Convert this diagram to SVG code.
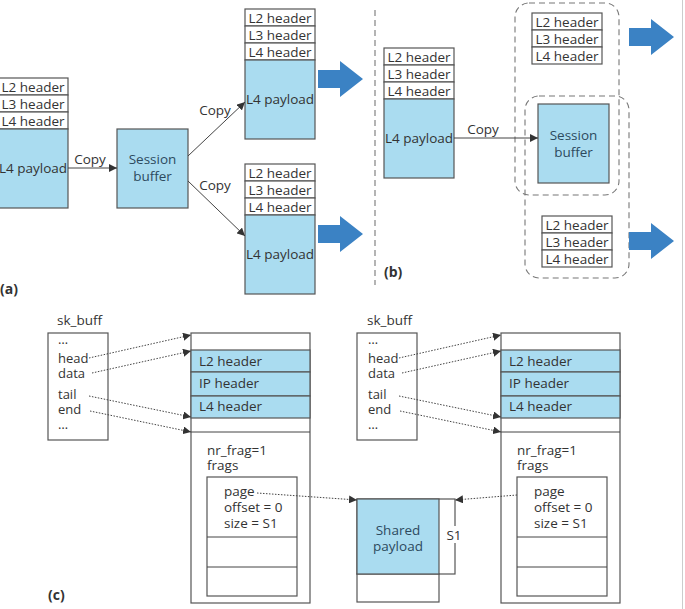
<svg xmlns="http://www.w3.org/2000/svg" width="685" height="609" viewBox="0 0 685 609">
<style>
text{font-family:"Open Sans","Noto Sans","Liberation Sans",sans-serif;font-size:13.5px;fill:#333}
.c{text-anchor:middle}
.s{font-size:13px}
.b{font-weight:bold;font-size:14px}
.sb{fill:#2d4a5e}
.w{fill:#fff;stroke:#555;stroke-width:1.2}
.bl{fill:#aadcf0;stroke:#555;stroke-width:1.2}
.ln{fill:none;stroke:#444;stroke-width:1}
.dot{fill:none;stroke:#444;stroke-width:1;stroke-dasharray:1.5 1.5}
.dash{fill:none;stroke:#777;stroke-width:1.1;stroke-dasharray:6 4}
.ba{fill:#3b82c4}
</style>
<defs>
<marker id="ah" viewBox="0 0 10 10" refX="10" refY="5" markerWidth="8" markerHeight="8" markerUnits="userSpaceOnUse" orient="auto">
<path d="M0,0 L10,5 L0,10 z" fill="#333"/>
</marker>
<g id="hdr3">
<rect class="w" x="0" y="0" width="70" height="17"/>
<rect class="w" x="0" y="17" width="70" height="17"/>
<rect class="w" x="0" y="34" width="70" height="17"/>
<text class="c" x="35" y="13.5">L2 header</text>
<text class="c" x="35" y="30.5">L3 header</text>
<text class="c" x="35" y="47.5">L4 header</text>
</g>
<polygon id="bigarrow" points="0,-9 22,-9 22,-18 45,0 22,18 22,9 0,9"/>
</defs>

<line x1="682.5" y1="0" x2="682.5" y2="609" stroke="#ccc" stroke-width="1"/>

<!-- Panel (a) -->
<g id="a-src">
<use href="#hdr3" x="-2" y="78"/>
<rect class="bl" x="-2" y="129" width="70" height="79"/>
<text class="c" x="33" y="173">L4 payload</text>
</g>
<g id="a-session">
<rect class="bl" x="117" y="129" width="71" height="79"/>
<text class="c sb" x="152.5" y="164">Session</text>
<text class="c sb" x="152.5" y="181">buffer</text>
</g>
<g id="a-out1">
<use href="#hdr3" x="245" y="9"/>
<rect class="bl" x="245" y="60" width="70" height="79"/>
<text class="c" x="280" y="104">L4 payload</text>
</g>
<g id="a-out2">
<use href="#hdr3" x="245" y="164"/>
<rect class="bl" x="245" y="215" width="70" height="79"/>
<text class="c" x="280" y="259">L4 payload</text>
</g>
<g id="a-arrows">
<use href="#bigarrow" class="ba" x="318" y="79"/>
<use href="#bigarrow" class="ba" x="318" y="234"/>
</g>
<g id="a-connectors">
<line class="ln" x1="68" y1="168" x2="117" y2="168" marker-end="url(#ah)"/>
<text class="c" x="90" y="164">Copy</text>
<line class="ln" x1="188" y1="156" x2="245" y2="102" marker-end="url(#ah)"/>
<text class="c" x="215" y="115">Copy</text>
<line class="ln" x1="188" y1="181" x2="245" y2="236" marker-end="url(#ah)"/>
<text class="c" x="215" y="190">Copy</text>
</g>
<text class="b" x="0" y="294">(a)</text>

<line class="dash" x1="375" y1="10" x2="375" y2="285"/>

<!-- Panel (b) -->
<g id="b-src">
<use href="#hdr3" x="384" y="48"/>
<rect class="bl" x="384" y="99" width="70" height="79"/>
<text class="c" x="419" y="143">L4 payload</text>
</g>
<g id="b-groups">
<rect class="dash" x="515" y="3" width="104" height="192" rx="14"/>
<rect class="dash" x="525" y="96" width="104" height="182" rx="14"/>
</g>
<g id="b-hdr1"><use href="#hdr3" x="532" y="13"/></g>
<g id="b-session">
<rect class="bl" x="538" y="104" width="71" height="79"/>
<text class="c sb" x="573.5" y="140">Session</text>
<text class="c sb" x="573.5" y="157">buffer</text>
</g>
<g id="b-hdr2"><use href="#hdr3" x="542" y="216"/></g>
<g id="b-arrows">
<use href="#bigarrow" class="ba" x="629" y="37"/>
<use href="#bigarrow" class="ba" x="629" y="241"/>
</g>
<g id="b-connectors">
<line class="ln" x1="454" y1="138" x2="538" y2="138" marker-end="url(#ah)"/>
<text class="c" x="483" y="134">Copy</text>
</g>
<text class="b" x="384" y="277">(b)</text>

<!-- Panel (c) -->
<g id="c-skbuff1">
<text x="57" y="325">sk_buff</text>
<rect class="w" x="48" y="333" width="60" height="107"/>
<text class="s" x="58" y="344">…</text>
<text class="s" x="58" y="363">head</text>
<text class="s" x="58" y="378">data</text>
<text class="s" x="58" y="399">tail</text>
<text class="s" x="58" y="414">end</text>
<text class="s" x="58" y="429">…</text>
</g>
<g id="c-buf1">
<rect class="w" x="191" y="333" width="119" height="270"/>
<rect class="bl" x="191" y="350" width="119" height="22"/>
<rect class="bl" x="191" y="372" width="119" height="24"/>
<rect class="bl" x="191" y="396" width="119" height="22"/>
<line class="ln" x1="191" y1="432" x2="310" y2="432"/>
<text x="199" y="366">L2 header</text>
<text x="199" y="388">IP header</text>
<text x="199" y="411">L4 header</text>
<text x="207" y="455">nr_frag=1</text>
<text x="207" y="470">frags</text>
<rect class="w" x="207" y="477" width="90" height="119"/>
<line class="ln" x1="207" y1="537" x2="297" y2="537"/>
<line class="ln" x1="207" y1="567" x2="297" y2="567"/>
<text x="224" y="496">page</text>
<text x="224" y="512">offset = 0</text>
<text x="224" y="528">size = S1</text>
</g>

<g id="c-skbuff2">
<text x="367" y="325">sk_buff</text>
<rect class="w" x="357" y="333" width="60" height="107"/>
<text class="s" x="368" y="344">…</text>
<text class="s" x="368" y="363">head</text>
<text class="s" x="368" y="378">data</text>
<text class="s" x="368" y="399">tail</text>
<text class="s" x="368" y="414">end</text>
<text class="s" x="368" y="429">…</text>
</g>
<g id="c-buf2">
<rect class="w" x="501" y="333" width="119" height="270"/>
<rect class="bl" x="501" y="350" width="119" height="22"/>
<rect class="bl" x="501" y="372" width="119" height="24"/>
<rect class="bl" x="501" y="396" width="119" height="22"/>
<line class="ln" x1="501" y1="432" x2="620" y2="432"/>
<text x="509" y="366">L2 header</text>
<text x="509" y="388">IP header</text>
<text x="509" y="411">L4 header</text>
<text x="517" y="455">nr_frag=1</text>
<text x="517" y="470">frags</text>
<rect class="w" x="517" y="477" width="90" height="119"/>
<line class="ln" x1="517" y1="537" x2="607" y2="537"/>
<line class="ln" x1="517" y1="567" x2="607" y2="567"/>
<text x="534" y="496">page</text>
<text x="534" y="512">offset = 0</text>
<text x="534" y="528">size = S1</text>
</g>

<g id="c-shared">
<rect class="w" x="357" y="499" width="98" height="75"/>
<rect class="w" x="357" y="574" width="82" height="28"/>
<rect class="bl" x="357" y="499" width="82" height="75"/>
<text class="c sb" x="398" y="535">Shared</text>
<text class="c sb" x="398" y="551">payload</text>
<rect x="446" y="526" width="16" height="17" fill="#fff"/>
<text class="c" x="454" y="540">S1</text>
</g>

<g id="c-connectors">
<line class="dot" x1="89" y1="358" x2="191" y2="335" marker-end="url(#ah)"/>
<line class="dot" x1="92" y1="373" x2="191" y2="351" marker-end="url(#ah)"/>
<line class="dot" x1="89" y1="396" x2="191" y2="417" marker-end="url(#ah)"/>
<line class="dot" x1="90" y1="411" x2="191" y2="432" marker-end="url(#ah)"/>
<line class="dot" x1="399" y1="358" x2="501" y2="335" marker-end="url(#ah)"/>
<line class="dot" x1="402" y1="373" x2="501" y2="351" marker-end="url(#ah)"/>
<line class="dot" x1="399" y1="396" x2="501" y2="417" marker-end="url(#ah)"/>
<line class="dot" x1="400" y1="411" x2="501" y2="432" marker-end="url(#ah)"/>
<line class="dot" x1="257" y1="493" x2="357" y2="500" marker-end="url(#ah)"/>
<line class="dot" x1="517" y1="495" x2="455" y2="500" marker-end="url(#ah)"/>
</g>
<text class="b" x="48" y="600">(c)</text>
</svg>
